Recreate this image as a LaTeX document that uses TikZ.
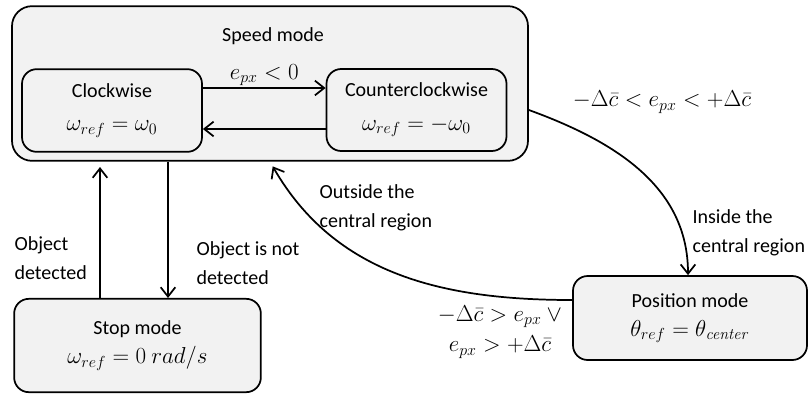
\documentclass[tikz,border=0pt]{standalone}
\usepackage[no-math]{fontspec}
\setmainfont{Carlito}
\usetikzlibrary{arrows.meta}
\definecolor{modefill}{RGB}{242,242,242}
\newcommand{\mth}[1]{{\fontsize{17}{22}\selectfont$#1$}}

\begin{document}
\begin{tikzpicture}[x=0.75pt, y=-0.75pt,
    every node/.style={font=\fontsize{15}{22}\selectfont, inner sep=1pt},
    mode/.style={draw, line width=1.3pt, fill=modefill, rounded corners=11pt, align=center},
    trans/.style={line width=1.3pt, -{Straight Barb[length=7pt, width=11pt]}}]
    \useasboundingbox (0,0) rectangle (809,393);

    % Modi
    \node[mode, minimum width=387pt, minimum height=116pt, rounded corners=15pt] (speed) at (270,83.5) {};
    \node (speedname) at (273,36) {Speed mode};
    \node[mode, minimum width=135pt, minimum height=62pt] (cw) at (112,110.5) {Clockwise\\[3pt]\mth{\omega_{ref} = \omega_0}};
    \node[mode, minimum width=135pt, minimum height=61.5pt] (ccw) at (416.5,110) {Counterclockwise\\[3pt]\mth{\omega_{ref} = -\omega_0}};
    \node[mode, minimum width=185pt, minimum height=70pt] (stop) at (137.5,345.5) {Stop mode\\\mth{\omega_{ref} = 0\ rad/s}};
    \node[mode, minimum width=175.5pt, minimum height=63pt] (pos) at (690,318) {Position mode\\\mth{\theta_{ref} = \theta_{\mathit{center}}}};

    % Uebergaenge im Speed mode
    \draw[trans] (cw.east |- 0,88) -- (ccw.west |- 0,88) node[midway, above] (neglbl) {\mth{e_{px} < 0}};
    \draw[trans] (ccw.west |- 0,129) -- (cw.east |- 0,129);

    % Stop mode
    \draw[trans, shorten >=4pt] (stop.north -| 100,0) -- (speed.south -| 100,0);
    \draw[trans] (speed.south -| 168,0) -- (stop.north -| 168,0);
    \node[anchor=west, align=left] (detlbl) at (13,258) {Object\\detected};
    \node[anchor=west, align=left] (notdetlbl) at (195,263) {Object is not\\detected};

    % Position mode
    \draw[trans] (speed.east |- ccw.east) to[out=-20, in=90] (pos.north -| 688,0);
    \draw[trans, shorten >=4pt] (pos.west |- 0,300) to[out=180, in=-60] (speed.south -| 270,0);
    \node (inrange) at (662,102) {\mth{-\Delta\bar{c} < e_{px} < +\Delta\bar{c}}};
    \node[anchor=west, align=left] (inlbl) at (691,233) {Inside the\\central region};
    \node[anchor=west, align=left] (outlbl) at (318,208) {Outside the\\central region};
    \node[align=center] (outrange) at (500,332) {\mth{-\Delta\bar{c} > e_{px}\ \vee}\\[1pt]\mth{e_{px} > +\Delta\bar{c}}};
\end{tikzpicture}
\end{document}
